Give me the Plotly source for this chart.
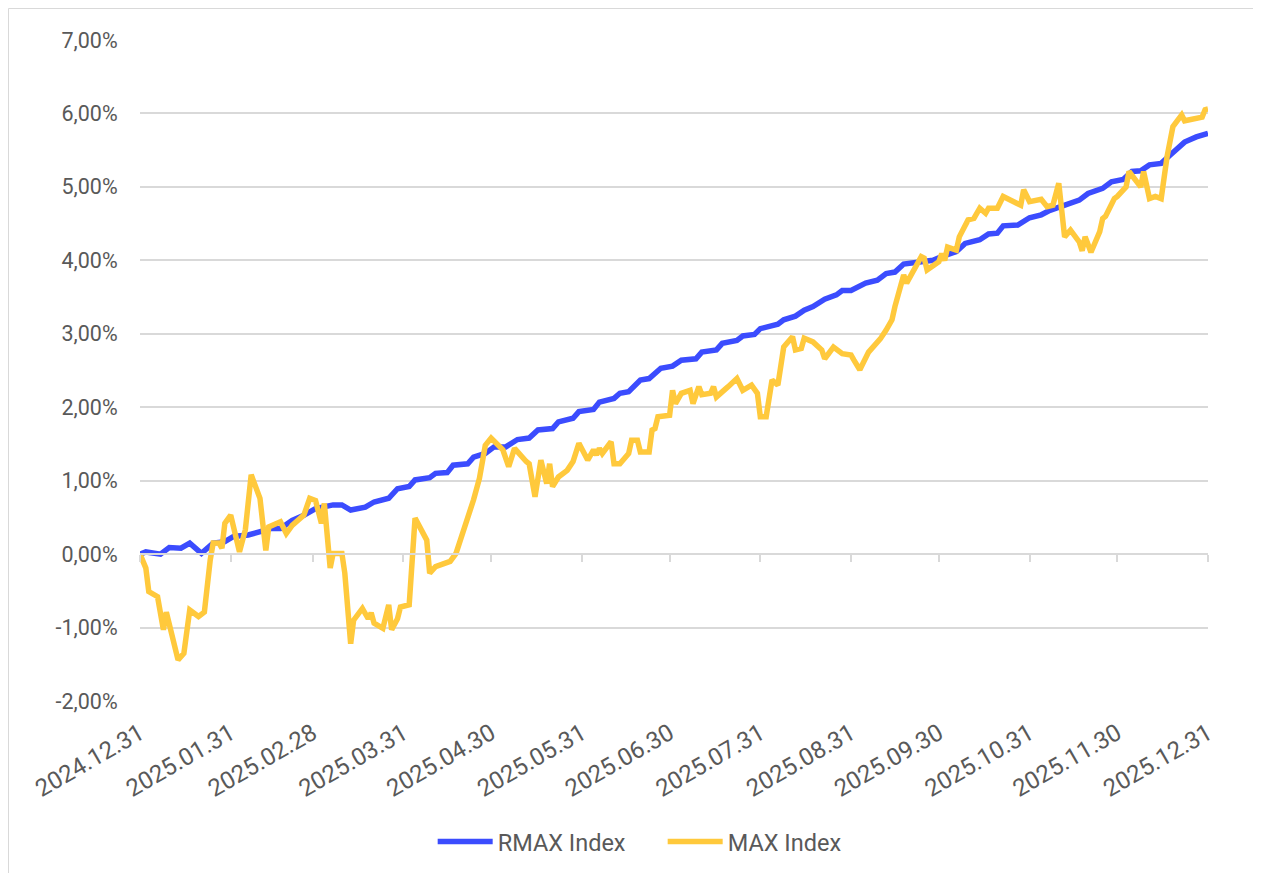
import plotly.graph_objects as go

# ---------------- data ----------------
rmax_dates = [
    "2024-12-31", "2025-01-02", "2025-01-07", "2025-01-10", "2025-01-14", "2025-01-17",
    "2025-01-21", "2025-01-23", "2025-01-25", "2025-01-29", "2025-02-01", "2025-02-06",
    "2025-02-10", "2025-02-14", "2025-02-17", "2025-02-21", "2025-02-25", "2025-03-01",
    "2025-03-07", "2025-03-10", "2025-03-13", "2025-03-18", "2025-03-21", "2025-03-26",
    "2025-03-29", "2025-04-02", "2025-04-04", "2025-04-09", "2025-04-11", "2025-04-15",
    "2025-04-17", "2025-04-22", "2025-04-24", "2025-04-28", "2025-05-01", "2025-05-05",
    "2025-05-09", "2025-05-13", "2025-05-16", "2025-05-21", "2025-05-23", "2025-05-28",
    "2025-05-30", "2025-06-04", "2025-06-06", "2025-06-11", "2025-06-13", "2025-06-16",
    "2025-06-20", "2025-06-23", "2025-06-27", "2025-07-01", "2025-07-04", "2025-07-09",
    "2025-07-11", "2025-07-16", "2025-07-18", "2025-07-23", "2025-07-25", "2025-07-29",
    "2025-07-31", "2025-08-06", "2025-08-08", "2025-08-12", "2025-08-15", "2025-08-18",
    "2025-08-22", "2025-08-26", "2025-08-28", "2025-08-31", "2025-09-05", "2025-09-09",
    "2025-09-12", "2025-09-15", "2025-09-18", "2025-09-22", "2025-09-28", "2025-10-01",
    "2025-10-06", "2025-10-09", "2025-10-14", "2025-10-17", "2025-10-20", "2025-10-22",
    "2025-10-27", "2025-10-31", "2025-11-04", "2025-11-07", "2025-11-11", "2025-11-17",
    "2025-11-20", "2025-11-25", "2025-11-28", "2025-12-02", "2025-12-05", "2025-12-08",
    "2025-12-11", "2025-12-15", "2025-12-18", "2025-12-23", "2025-12-27", "2025-12-31",
]
rmax_values = [
    0.00, 0.03, 0.00, 0.09, 0.08, 0.15,
    0.01, 0.08, 0.15, 0.17, 0.24, 0.26,
    0.30, 0.35, 0.35, 0.46, 0.53, 0.62,
    0.67, 0.67, 0.60, 0.64, 0.71, 0.76,
    0.89, 0.92, 1.01, 1.04, 1.10, 1.11,
    1.21, 1.23, 1.32, 1.37, 1.46, 1.46,
    1.56, 1.58, 1.69, 1.71, 1.80, 1.85,
    1.94, 1.97, 2.07, 2.12, 2.19, 2.21,
    2.37, 2.39, 2.53, 2.56, 2.64, 2.66,
    2.75, 2.78, 2.87, 2.91, 2.97, 2.99,
    3.07, 3.13, 3.19, 3.24, 3.32, 3.37,
    3.47, 3.53, 3.59, 3.59, 3.69, 3.73,
    3.82, 3.84, 3.95, 3.97, 4.00, 4.05,
    4.12, 4.23, 4.28, 4.36, 4.37, 4.47,
    4.48, 4.58, 4.62, 4.68, 4.73, 4.82,
    4.91, 4.98, 5.07, 5.10, 5.21, 5.22,
    5.30, 5.32, 5.43, 5.61, 5.68, 5.73,
]

max_dates = [
    "2024-12-31", "2025-01-02", "2025-01-03", "2025-01-06", "2025-01-08", "2025-01-09",
    "2025-01-13", "2025-01-15", "2025-01-17", "2025-01-20", "2025-01-22", "2025-01-23",
    "2025-01-24", "2025-01-25", "2025-01-27", "2025-01-28", "2025-01-29", "2025-01-31",
    "2025-02-03", "2025-02-05", "2025-02-07", "2025-02-10", "2025-02-12", "2025-02-13",
    "2025-02-17", "2025-02-19", "2025-02-21", "2025-02-25", "2025-02-27", "2025-03-01",
    "2025-03-03", "2025-03-04", "2025-03-06", "2025-03-07", "2025-03-10", "2025-03-11",
    "2025-03-13", "2025-03-14", "2025-03-17", "2025-03-19", "2025-03-20", "2025-03-21",
    "2025-03-24", "2025-03-26", "2025-03-27", "2025-03-29", "2025-03-30", "2025-04-02",
    "2025-04-04", "2025-04-08", "2025-04-09", "2025-04-11", "2025-04-15", "2025-04-16",
    "2025-04-18", "2025-04-22", "2025-04-24", "2025-04-26", "2025-04-28", "2025-04-30",
    "2025-05-04", "2025-05-06", "2025-05-08", "2025-05-12", "2025-05-13", "2025-05-15",
    "2025-05-17", "2025-05-19", "2025-05-20", "2025-05-21", "2025-05-23", "2025-05-26",
    "2025-05-28", "2025-05-30", "2025-06-02", "2025-06-04", "2025-06-05", "2025-06-06",
    "2025-06-07", "2025-06-10", "2025-06-11", "2025-06-13", "2025-06-16", "2025-06-17",
    "2025-06-19", "2025-06-20", "2025-06-23", "2025-06-24", "2025-06-25", "2025-06-26",
    "2025-06-30", "2025-07-01", "2025-07-02", "2025-07-04", "2025-07-07", "2025-07-08",
    "2025-07-10", "2025-07-11", "2025-07-14", "2025-07-15", "2025-07-16", "2025-07-20",
    "2025-07-23", "2025-07-25", "2025-07-28", "2025-07-30", "2025-07-31", "2025-08-02",
    "2025-08-04", "2025-08-06", "2025-08-08", "2025-08-11", "2025-08-12", "2025-08-14",
    "2025-08-15", "2025-08-18", "2025-08-21", "2025-08-22", "2025-08-25", "2025-08-28",
    "2025-08-31", "2025-09-01", "2025-09-03", "2025-09-06", "2025-09-10", "2025-09-12",
    "2025-09-14", "2025-09-15", "2025-09-18", "2025-09-19", "2025-09-24", "2025-09-25",
    "2025-09-26", "2025-09-30", "2025-10-01", "2025-10-02", "2025-10-03", "2025-10-06",
    "2025-10-07", "2025-10-10", "2025-10-12", "2025-10-14", "2025-10-16", "2025-10-17",
    "2025-10-20", "2025-10-22", "2025-10-25", "2025-10-28", "2025-10-29", "2025-10-31",
    "2025-11-04", "2025-11-06", "2025-11-08", "2025-11-10", "2025-11-12", "2025-11-14",
    "2025-11-17", "2025-11-18", "2025-11-19", "2025-11-21", "2025-11-24", "2025-11-25",
    "2025-11-26", "2025-11-29", "2025-11-30", "2025-12-02", "2025-12-03", "2025-12-04",
    "2025-12-08", "2025-12-09", "2025-12-11", "2025-12-13", "2025-12-15", "2025-12-17",
    "2025-12-19", "2025-12-22", "2025-12-23", "2025-12-29", "2025-12-30", "2025-12-31",
]
max_values = [
    0.00, -0.19, -0.51, -0.58, -1.03, -0.79,
    -1.44, -1.35, -0.76, -0.85, -0.79, -0.35,
    -0.08, 0.15, 0.15, 0.08, 0.42, 0.53,
    0.03, 0.33, 1.08, 0.76, 0.05, 0.37,
    0.44, 0.28, 0.39, 0.53, 0.76, 0.73,
    0.42, 0.69, -0.19, 0.01, 0.01, -0.26,
    -1.22, -0.90, -0.74, -0.88, -0.80, -0.94,
    -1.01, -0.69, -1.03, -0.88, -0.72, -0.69,
    0.49, 0.19, -0.26, -0.17, -0.10, -0.10,
    0.01, 0.46, 0.74, 1.03, 1.48, 1.58,
    1.42, 1.19, 1.44, 1.26, 1.23, 0.78,
    1.28, 0.96, 1.23, 0.92, 1.05, 1.14,
    1.26, 1.51, 1.28, 1.42, 1.35, 1.44,
    1.37, 1.53, 1.23, 1.23, 1.37, 1.55,
    1.55, 1.39, 1.39, 1.69, 1.71, 1.87,
    1.89, 2.23, 2.05, 2.19, 2.23, 2.05,
    2.28, 2.17, 2.19, 2.28, 2.14, 2.28,
    2.39, 2.23, 2.30, 2.19, 1.87, 1.87,
    2.37, 2.30, 2.82, 2.96, 2.78, 2.80,
    2.94, 2.89, 2.78, 2.66, 2.82, 2.73,
    2.71, 2.64, 2.51, 2.75, 2.93, 3.05,
    3.19, 3.37, 3.80, 3.69, 4.05, 4.03,
    3.87, 3.98, 4.09, 4.00, 4.18, 4.14,
    4.32, 4.55, 4.57, 4.71, 4.64, 4.71,
    4.71, 4.87, 4.81, 4.75, 4.96, 4.80,
    4.83, 4.73, 4.75, 5.05, 4.32, 4.41,
    4.25, 4.13, 4.32, 4.11, 4.39, 4.57,
    4.60, 4.84, 4.87, 4.96, 5.00, 5.21,
    5.00, 5.21, 4.84, 4.87, 4.84, 5.41,
    5.82, 5.98, 5.90, 5.95, 6.05, 6.06,
]

x_tick_dates = [
    "2024-12-31", "2025-01-31", "2025-02-28", "2025-03-31", "2025-04-30", "2025-05-31",
    "2025-06-30", "2025-07-31", "2025-08-31", "2025-09-30", "2025-10-31", "2025-11-30",
    "2025-12-31",
]
x_tick_labels = [d.replace("-", ".") for d in x_tick_dates]
y_tick_vals = [-2, -1, 0, 1, 2, 3, 4, 5, 6, 7]
y_tick_labels = [f"{v:.2f}%".replace(".", ",") for v in y_tick_vals]

# ---------------- style ----------------
BLUE = "#3b4cfe"
YELLOW = "#ffc93c"
GRID = "#d9d9d9"
TEXT = "#595959"
FONT = "Roboto"

# page body adds an 8px offset, so the figure is sized to end at the window edge
W, H = 1253, 865
ML, MT = 132, 32
PW, PH = 1068, 661

fig = go.Figure()
fig.add_trace(go.Scatter(
    x=rmax_dates, y=rmax_values, name="RMAX Index", mode="lines",
    line=dict(color=BLUE, width=5.5), xaxis="x", yaxis="y",
))
fig.add_trace(go.Scatter(
    x=max_dates, y=max_values, name="MAX Index", mode="lines",
    line=dict(color=YELLOW, width=5.5), xaxis="x2", yaxis="y",
))

fig.update_layout(
    width=W, height=H,
    paper_bgcolor="white", plot_bgcolor="white",
    margin=dict(l=ML, r=W - ML - PW, t=MT, b=H - MT - PH, autoexpand=False),
    font=dict(family=FONT, size=22, color=TEXT),
    showlegend=True,
    legend=dict(orientation="h", x=0.4894, xanchor="center", y=-0.213, yanchor="middle",
                font=dict(family=FONT, size=23.5, color=TEXT), itemwidth=55,
                entrywidth=160, entrywidthmode="pixels",
                bgcolor="rgba(0,0,0,0)"),
    xaxis=dict(
        type="date", range=["2024-12-31", "2025-12-31"],
        tickvals=x_tick_dates, ticktext=x_tick_labels, tickangle=-30,
        showgrid=False, showline=False, zeroline=False,
        ticks="outside", ticklen=8, tickcolor="rgba(0,0,0,0)",
        tickfont=dict(family=FONT, size=24, color=TEXT),
    ),
    xaxis2=dict(
        type="date", matches="x", overlaying="x", anchor="free", position=2 / 9,
        tickvals=x_tick_dates, showticklabels=False, showgrid=False, zeroline=False,
        showline=True, linecolor=GRID, linewidth=1.5,
        ticks="outside", ticklen=7, tickcolor=GRID, tickwidth=1.5,
    ),
    yaxis=dict(
        range=[-2, 7], tickvals=y_tick_vals, ticktext=y_tick_labels,
        showgrid=True, gridcolor=GRID, gridwidth=1.5, zeroline=False, showline=False,
        ticks="outside", ticklen=17, tickcolor="rgba(0,0,0,0)",
        tickfont=dict(family=FONT, size=21.5, color=TEXT),
    ),
    shapes=[dict(type="rect", xref="paper", yref="paper",
                 x0=(0.5 - ML) / PW, x1=(W + 40 - ML) / PW,
                 y0=-(H + 40 - MT - PH) / PH, y1=(MT + PH - 0.5) / PH,
                 line=dict(color=GRID, width=1), fillcolor="rgba(0,0,0,0)", layer="below")],
)

fig.write_html("out.html")
